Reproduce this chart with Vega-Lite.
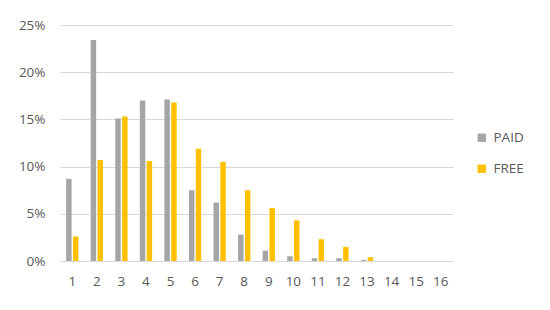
{
  "$schema": "https://vega.github.io/schema/vega-lite/v6.json",
  "width": 393,
  "height": 236,
  "autosize": {"type": "none"},
  "padding": {"left": 60, "top": 25, "right": 97, "bottom": 49},
  "background": "white",
  "config": {
    "view": {"stroke": null},
    "font": "Open Sans"
  },
  "data": {
    "values": [
      {"k": 1, "type": "PAID", "v": 0.087}, {"k": 1, "type": "FREE", "v": 0.026},
      {"k": 2, "type": "PAID", "v": 0.234}, {"k": 2, "type": "FREE", "v": 0.107},
      {"k": 3, "type": "PAID", "v": 0.151}, {"k": 3, "type": "FREE", "v": 0.153},
      {"k": 4, "type": "PAID", "v": 0.170}, {"k": 4, "type": "FREE", "v": 0.106},
      {"k": 5, "type": "PAID", "v": 0.171}, {"k": 5, "type": "FREE", "v": 0.168},
      {"k": 6, "type": "PAID", "v": 0.075}, {"k": 6, "type": "FREE", "v": 0.119},
      {"k": 7, "type": "PAID", "v": 0.062}, {"k": 7, "type": "FREE", "v": 0.105},
      {"k": 8, "type": "PAID", "v": 0.028}, {"k": 8, "type": "FREE", "v": 0.075},
      {"k": 9, "type": "PAID", "v": 0.011}, {"k": 9, "type": "FREE", "v": 0.056},
      {"k": 10, "type": "PAID", "v": 0.005}, {"k": 10, "type": "FREE", "v": 0.043},
      {"k": 11, "type": "PAID", "v": 0.003}, {"k": 11, "type": "FREE", "v": 0.023},
      {"k": 12, "type": "PAID", "v": 0.003}, {"k": 12, "type": "FREE", "v": 0.015},
      {"k": 13, "type": "PAID", "v": 0.0012}, {"k": 13, "type": "FREE", "v": 0.004},
      {"k": 14, "type": "PAID", "v": 0}, {"k": 14, "type": "FREE", "v": 0},
      {"k": 15, "type": "PAID", "v": 0}, {"k": 15, "type": "FREE", "v": 0},
      {"k": 16, "type": "PAID", "v": 0}, {"k": 16, "type": "FREE", "v": 0}
    ]
  },
  "mark": {"type": "bar"},
  "encoding": {
    "x": {
      "field": "k", "type": "ordinal",
      "scale": {"paddingInner": 0.5, "paddingOuter": 0.25},
      "axis": {
        "title": null, "labelAngle": 0, "ticks": false,
        "domainColor": "#d9d9d9", "domainWidth": 1,
        "labelFontSize": 13.5, "labelColor": "#595959", "labelPadding": 13
      }
    },
    "xOffset": {
      "field": "type", "type": "nominal",
      "sort": ["PAID", "FREE"],
      "scale": {"paddingInner": 0.2}
    },
    "y": {
      "field": "v", "type": "quantitative",
      "scale": {"domain": [0, 0.25], "nice": false},
      "axis": {
        "title": null, "format": ".0%", "values": [0, 0.05, 0.1, 0.15, 0.2, 0.25],
        "labelOverlap": false,
        "domain": false, "ticks": false,
        "gridColor": "#d9d9d9", "gridWidth": 1,
        "labelFontSize": 13.5, "labelColor": "#595959", "labelPadding": 15
      }
    },
    "color": {
      "field": "type", "type": "nominal",
      "sort": ["PAID", "FREE"],
      "scale": {"domain": ["PAID", "FREE"], "range": ["#A5A5A5", "#FFC000"]},
      "legend": {
        "title": null, "orient": "none", "legendX": 415, "legendY": 106,
        "symbolType": "square", "symbolSize": 70, "symbolStrokeWidth": 0,
        "labelFontSize": 13.5, "labelColor": "#595959", "rowPadding": 16,
        "labelOffset": 5
      }
    }
  }
}
